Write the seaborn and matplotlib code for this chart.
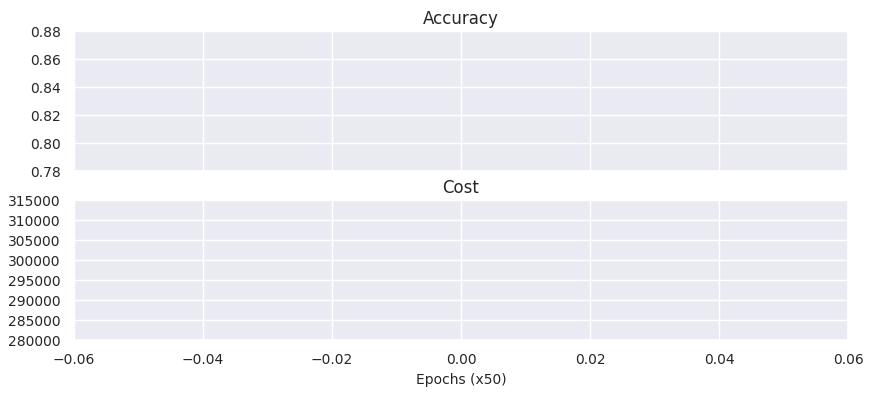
import matplotlib
matplotlib.use("Agg")
import matplotlib.pyplot as plt
import seaborn as sns
import pandas as pd

# Data (the reference chart shows empty axes: no recorded points)
epochs = []
accuracy = []
cost = []

titles = ["Accuracy", "Cost"]
x_label = "Epochs (x50)"
acc_ticks = [0.78, 0.80, 0.82, 0.84, 0.86, 0.88]
cost_ticks = [280000, 285000, 290000, 295000, 300000, 305000, 310000, 315000]
x_ticks = [-0.06, -0.04, -0.02, 0.00, 0.02, 0.04, 0.06]

sns.set_theme(style="darkgrid")
plt.rcParams["font.family"] = ["DejaVu Sans"]
plt.rcParams["xtick.labelsize"] = 10
plt.rcParams["ytick.labelsize"] = 10
plt.rcParams["axes.titlesize"] = 12
plt.rcParams["axes.labelsize"] = 10

df = pd.DataFrame({"epoch": pd.Series(epochs, dtype=float),
                   "accuracy": pd.Series(accuracy, dtype=float),
                   "cost": pd.Series(cost, dtype=float)})

fig = plt.figure(figsize=(8.73, 3.95), dpi=100)
ax1 = fig.add_axes([0.0848, 0.567, 0.8866, 0.3545])
ax2 = fig.add_axes([0.0848, 0.139, 0.8866, 0.3545], sharex=ax1)

ax1.plot(df["epoch"], df["accuracy"])
ax2.plot(df["epoch"], df["cost"])

ax1.set_title(titles[0], pad=5)
ax2.set_title(titles[1], pad=5)
ax1.set_ylim(acc_ticks[0], acc_ticks[-1])
ax1.set_yticks(acc_ticks)
ax1.set_yticklabels([f"{v:.2f}" for v in acc_ticks])
ax2.set_ylim(cost_ticks[0], cost_ticks[-1])
ax2.set_yticks(cost_ticks)
ax2.set_yticklabels([str(v) for v in cost_ticks])
ax2.set_xlim(x_ticks[0], x_ticks[-1])
ax2.set_xticks(x_ticks)
ax2.set_xticklabels([f"{v:.2f}".replace("-", "\u2212") for v in x_ticks])
plt.setp(ax1.get_xticklabels(), visible=False)
ax2.set_xlabel(x_label)

fig.savefig("out.png", dpi=100)
